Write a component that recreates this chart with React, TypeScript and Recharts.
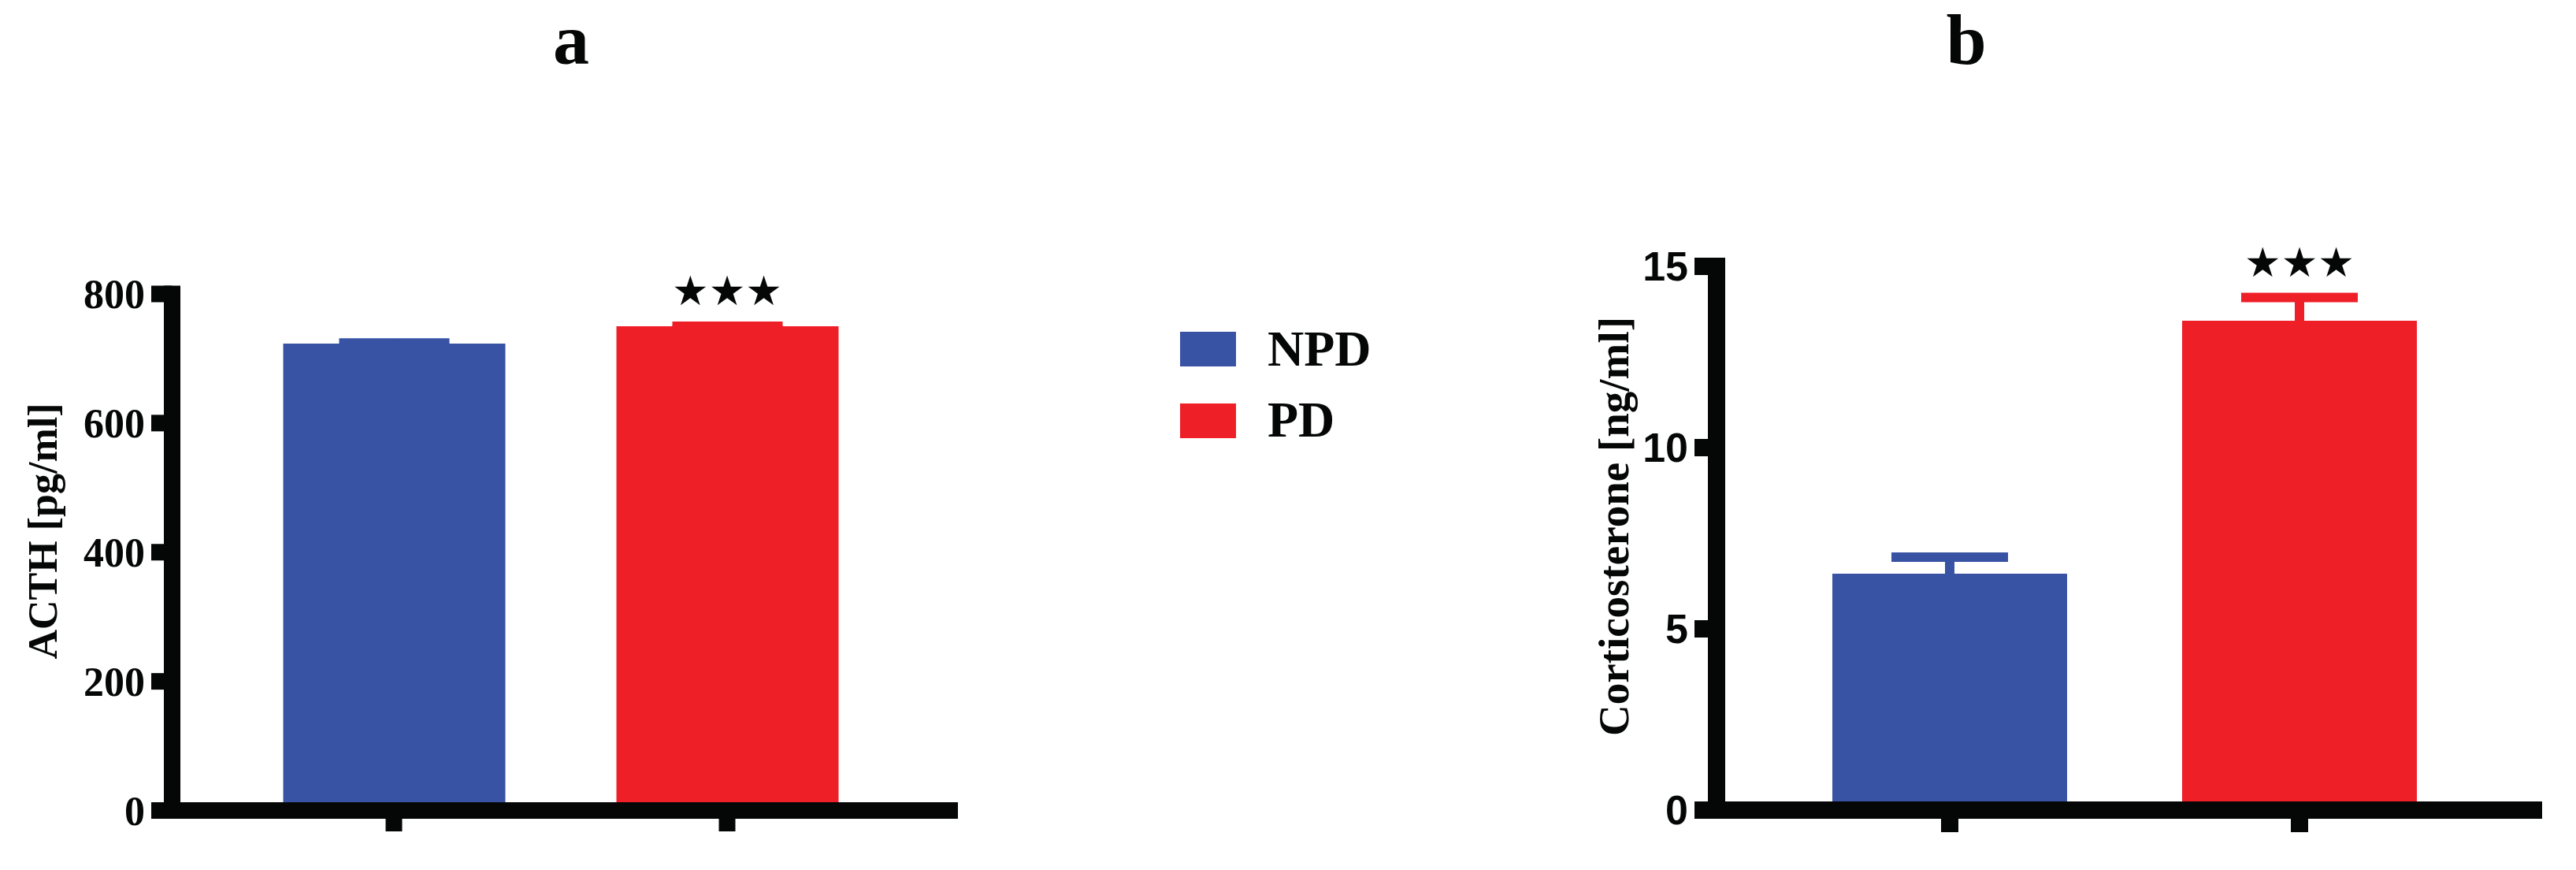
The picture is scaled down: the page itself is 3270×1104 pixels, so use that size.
import React from "react";
import { BarChart, Bar, XAxis, YAxis, ErrorBar, ReferenceDot } from "recharts";

const groups = ["NPD", "PD"];
const groupColors = ["#3953A4", "#EE1F27"];

// panel a: ACTH [pg/ml]
const acthMean = [723, 750];
const acthSem = [4, 3];
const acthTicks = [0, 200, 400, 600, 800];

// panel b: Corticosterone [ng/ml]
const corticoMean = [6.52, 13.5];
const corticoSem = [0.46, 0.64];
const corticoTicks = [0, 5, 10, 15];

const INK = "#050706";
const SERIF = '"Liberation Serif", "Times New Roman", serif';
const SANS = '"Liberation Sans", Arial, sans-serif';
const H = 1104;
const X_AXIS_H = 40;

// one row per group; each group gets its own series so it can carry its own colour
function buildRows(mean: number[], sem: number[]) {
  return groups.map((g, i) => {
    const row: Record<string, string | number | null> = { group: g };
    groups.forEach((k, j) => {
      row[k] = i === j ? mean[i] : null;
      row[k + "Sem"] = i === j ? sem[i] : null;
    });
    return row;
  });
}

interface PanelProps {
  left: number;
  width: number;
  mean: number[];
  sem: number[];
  ticks: number[];
  tickFont: string;
  plotLeft: number;
  plotRight: number;
  plotTop: number;
  plotBottom: number;
  padL: number;
  padR: number;
  barSize: number;
  axisW: number;
  tickLen: number;
  capHalf: number;
  errW: number;
  starOffset: number;
}

function Panel(p: PanelProps) {
  const rows = buildRows(p.mean, p.sem);
  const margin = {
    top: p.plotTop,
    right: p.width - p.plotRight,
    bottom: H - p.plotBottom - X_AXIS_H,
    left: 0,
  };
  const axisLine = { stroke: INK, strokeWidth: p.axisW, strokeLinecap: "square" as const };
  const tickLine = { stroke: INK, strokeWidth: p.axisW };
  const last = groups.length - 1;

  return (
    <div style={{ position: "absolute", left: p.left, top: 0 }}>
      <BarChart
        width={p.width}
        height={H}
        data={rows}
        margin={margin}
        barSize={p.barSize}
        barGap={-p.barSize}
      >
        {groups.map((g, i) => (
          <Bar key={g} dataKey={g} fill={groupColors[i]} isAnimationActive={false}>
            <ErrorBar
              dataKey={g + "Sem"}
              direction="y"
              width={p.capHalf}
              strokeWidth={p.errW}
              stroke={groupColors[i]}
              isAnimationActive={false}
            />
          </Bar>
        ))}
        <XAxis
          dataKey="group"
          height={X_AXIS_H}
          padding={{ left: p.padL, right: p.padR }}
          interval={0}
          tick={{ fontSize: 1, fill: "none" }}
          tickFormatter={() => ""}
          tickSize={p.tickLen}
          axisLine={axisLine}
          tickLine={tickLine}
        />
        <YAxis
          width={p.plotLeft}
          type="number"
          domain={[0, p.ticks[p.ticks.length - 1]]}
          ticks={p.ticks}
          interval={0}
          tickSize={p.tickLen}
          tickMargin={8}
          axisLine={axisLine}
          tickLine={tickLine}
          tick={{ fill: INK, fontSize: 52, fontWeight: 700, fontFamily: p.tickFont }}
        />
        <ReferenceDot
          x={groups[last]}
          y={p.mean[last] + p.sem[last]}
          r={0}
          fill="none"
          stroke="none"
          label={{
            value: "★★★",
            position: "top",
            offset: p.starOffset,
            fill: INK,
            fontSize: 52,
            fontFamily: '"DejaVu Sans", sans-serif',
            letterSpacing: 0,
          }}
        />
      </BarChart>
    </div>
  );
}

export default function App() {
  return (
    <div
      style={{
        position: "absolute",
        left: 0,
        top: 0,
        width: 3270,
        height: H,
        background: "#ffffff",
      }}
    >
      <Panel
        left={0}
        width={1250}
        mean={acthMean}
        sem={acthSem}
        ticks={acthTicks}
        tickFont={SERIF}
        plotLeft={218.5}
        plotRight={1205.5}
        plotTop={373}
        plotBottom={1028.5}
        padL={70}
        padR={71}
        barSize={282}
        axisW={21}
        tickLen={26.5}
        capHalf={70}
        errW={7}
        starOffset={25}
      />
      <Panel
        left={1950}
        width={1320}
        mean={corticoMean}
        sem={corticoSem}
        ticks={corticoTicks}
        tickFont={SANS}
        plotLeft={229}
        plotRight={1266}
        plotTop={338}
        plotBottom={1028}
        padL={74}
        padR={75}
        barSize={298}
        axisW={22}
        tickLen={28}
        capHalf={74}
        errW={12}
        starOffset={27}
      />
      <svg
        width={3270}
        height={H}
        style={{ position: "absolute", left: 0, top: 0, pointerEvents: "none" }}
      >
        <g fill={INK} fontFamily={SERIF} fontWeight={700}>
          <text x={725} y={81} fontSize={92} textAnchor="middle">a</text>
          <text x={2496} y={81} fontSize={92} textAnchor="middle">b</text>
          <text x={72} y={674} fontSize={52} textAnchor="middle" transform="rotate(-90 72 674)">
            ACTH [pg/ml]
          </text>
          <text x={2067} y={668} fontSize={55} textAnchor="middle" transform="rotate(-90 2067 668)">
            Corticosterone [ng/ml]
          </text>
          {groups.map((g, i) => (
            <g key={g}>
              <rect x={1498} y={421 + i * 91} width={71} height={44} fill={groupColors[i]} />
              <text x={1609} y={464 + i * 90} fontSize={64}>{g}</text>
            </g>
          ))}
        </g>
      </svg>
    </div>
  );
}
